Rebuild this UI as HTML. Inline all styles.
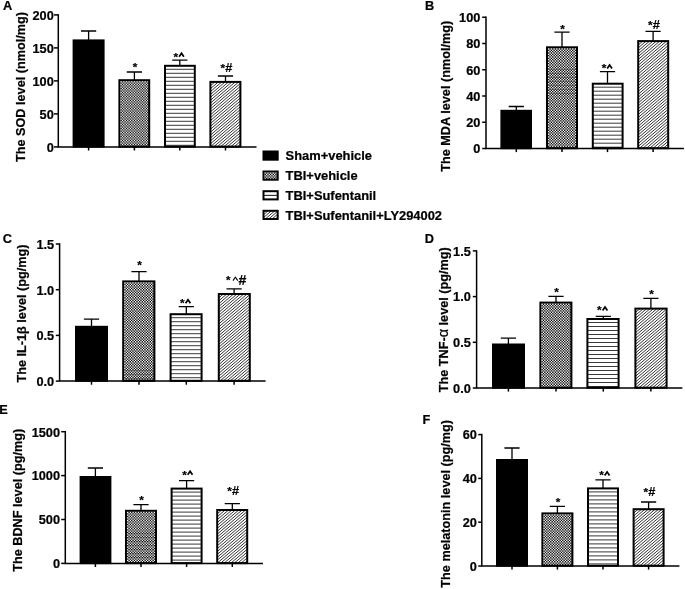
<!DOCTYPE html>
<html><head><meta charset="utf-8"><title>Figure</title>
<style>html,body{margin:0;padding:0;background:#fff;overflow:hidden}svg{display:block}text{font-family:"Liberation Sans",sans-serif;font-weight:bold;fill:#000;stroke:#000;stroke-width:0.22px}</style>
</head><body>
<svg width="685" height="589" viewBox="0 0 685 589">
<defs>
<filter id="soft" x="0" y="0" width="685" height="589" filterUnits="userSpaceOnUse"><feGaussianBlur stdDeviation="0.3"/></filter>
</defs>
<rect width="685" height="589" fill="#fff"/>
<g filter="url(#soft)">
<g id="panelA">
<text transform="translate(2.9,9.7) scale(0.94,1)" font-size="13.6">A</text>
<path d="M88.60,40.40 V31.00 M81.00,31.00 H96.20" stroke="#000" stroke-width="1.3" fill="none"/>
<rect x="73.60" y="40.40" width="30.00" height="106.20" fill="#000" stroke="#000" stroke-width="2.0"/>
<path d="M88.60,146.90 V150.50" stroke="#000" stroke-width="1.5"/>
<path d="M134.40,80.20 V72.00 M126.80,72.00 H142.00" stroke="#000" stroke-width="1.3" fill="none"/>
<clipPath id="c1"><rect x="119.40" y="80.20" width="29.80" height="66.40"/></clipPath>
<rect x="119.40" y="80.20" width="29.80" height="66.40" fill="#fff"/>
<path clip-path="url(#c1)" d="M121.83,81.87H149.20M121.83,84.53H149.20M121.83,87.20H149.20M121.83,89.86H149.20M121.83,92.53H149.20M121.83,95.20H149.20M121.83,97.86H149.20M121.83,100.53H149.20M121.83,103.19H149.20M121.83,105.86H149.20M121.83,108.53H149.20M121.83,111.19H149.20M121.83,113.86H149.20M121.83,116.52H149.20M121.83,119.19H149.20M121.83,121.86H149.20M121.83,124.52H149.20M121.83,127.19H149.20M121.83,129.85H149.20M121.83,132.52H149.20M121.83,135.19H149.20M121.83,137.85H149.20M121.83,140.52H149.20M121.83,143.18H149.20M121.83,145.85H149.20M120.50,83.20H149.20M120.50,85.87H149.20M120.50,88.53H149.20M120.50,91.20H149.20M120.50,93.86H149.20M120.50,96.53H149.20M120.50,99.20H149.20M120.50,101.86H149.20M120.50,104.53H149.20M120.50,107.19H149.20M120.50,109.86H149.20M120.50,112.53H149.20M120.50,115.19H149.20M120.50,117.86H149.20M120.50,120.52H149.20M120.50,123.19H149.20M120.50,125.86H149.20M120.50,128.52H149.20M120.50,131.19H149.20M120.50,133.85H149.20M120.50,136.52H149.20M120.50,139.19H149.20M120.50,141.85H149.20M120.50,144.52H149.20M120.50,147.18H149.20" stroke="#000" stroke-width="1.333" stroke-dasharray="1.333 1.333" fill="none"/>
<rect x="119.40" y="80.20" width="29.80" height="66.40" fill="none" stroke="#000" stroke-width="2.0"/>
<path d="M134.40,146.90 V150.50" stroke="#000" stroke-width="1.5"/>
<text x="135.00" y="70.55" font-size="11.8" font-weight="bold" text-anchor="middle" stroke-width="0.1">*</text>
<path d="M179.80,65.80 V60.20 M172.20,60.20 H187.40" stroke="#000" stroke-width="1.3" fill="none"/>
<clipPath id="c2"><rect x="165.00" y="65.80" width="29.80" height="80.80"/></clipPath>
<path clip-path="url(#c2)" d="M165.00,69.30H194.80M165.00,73.30H194.80M165.00,77.30H194.80M165.00,81.30H194.80M165.00,85.30H194.80M165.00,89.30H194.80M165.00,93.30H194.80M165.00,97.30H194.80M165.00,101.30H194.80M165.00,105.30H194.80M165.00,109.30H194.80M165.00,113.30H194.80M165.00,117.30H194.80M165.00,121.30H194.80M165.00,125.30H194.80M165.00,129.30H194.80M165.00,133.30H194.80M165.00,137.30H194.80M165.00,141.30H194.80M165.00,145.30H194.80" stroke="#3a3a3a" stroke-width="1.0" fill="none"/>
<rect x="165.00" y="65.80" width="29.80" height="80.80" fill="none" stroke="#000" stroke-width="2.0"/>
<path d="M179.80,146.90 V150.50" stroke="#000" stroke-width="1.5"/>
<text x="175.90" y="60.65" font-size="11.8" font-weight="bold" text-anchor="middle" stroke-width="0.1">*</text>
<path d="M179.09,56.80 L181.50,53.29 L183.91,56.80" stroke="#000" stroke-width="1.7" fill="none" stroke-linejoin="miter" stroke-miterlimit="10"/>
<path d="M225.50,81.90 V76.00 M217.90,76.00 H233.10" stroke="#000" stroke-width="1.3" fill="none"/>
<clipPath id="c3"><rect x="210.40" y="81.90" width="30.00" height="64.70"/></clipPath>
<path clip-path="url(#c3)" d="M210.40,82.90L240.40,57.31M210.40,85.80L240.40,60.21M210.40,88.70L240.40,63.11M210.40,91.60L240.40,66.01M210.40,94.50L240.40,68.91M210.40,97.40L240.40,71.81M210.40,100.30L240.40,74.71M210.40,103.20L240.40,77.61M210.40,106.10L240.40,80.51M210.40,109.00L240.40,83.41M210.40,111.90L240.40,86.31M210.40,114.80L240.40,89.21M210.40,117.70L240.40,92.11M210.40,120.60L240.40,95.01M210.40,123.50L240.40,97.91M210.40,126.40L240.40,100.81M210.40,129.30L240.40,103.71M210.40,132.20L240.40,106.61M210.40,135.10L240.40,109.51M210.40,138.00L240.40,112.41M210.40,140.90L240.40,115.31M210.40,143.80L240.40,118.21M210.40,146.70L240.40,121.11M210.40,149.60L240.40,124.01M210.40,152.50L240.40,126.91M210.40,155.40L240.40,129.81M210.40,158.30L240.40,132.71M210.40,161.20L240.40,135.61M210.40,164.10L240.40,138.51M210.40,167.00L240.40,141.41M210.40,169.90L240.40,144.31M210.40,172.80L240.40,147.21" stroke="#111" stroke-width="0.85" fill="none"/>
<rect x="210.40" y="81.90" width="30.00" height="64.70" fill="none" stroke="#000" stroke-width="2.0"/>
<path d="M225.50,146.90 V150.50" stroke="#000" stroke-width="1.5"/>
<text x="222.80" y="71.95" font-size="11.8" font-weight="bold" text-anchor="middle" stroke-width="0.1">*</text>
<text x="228.80" y="72.12" font-size="12.75" font-weight="bold" text-anchor="middle" stroke="#000" stroke-width="0.35">#</text>
<path d="M58.30,14.15 V146.90 H256.50" stroke="#000" stroke-width="1.5" fill="none" stroke-linejoin="miter"/>
<path d="M54,146.90 H58.3" stroke="#000" stroke-width="1.5"/>
<text x="53.8" y="151.76" font-size="12.75" text-anchor="end">0</text>
<path d="M54,113.90 H58.3" stroke="#000" stroke-width="1.5"/>
<text x="53.8" y="118.76" font-size="12.75" text-anchor="end">50</text>
<path d="M54,80.90 H58.3" stroke="#000" stroke-width="1.5"/>
<text x="53.8" y="85.76" font-size="12.75" text-anchor="end">100</text>
<path d="M54,47.90 H58.3" stroke="#000" stroke-width="1.5"/>
<text x="53.8" y="52.76" font-size="12.75" text-anchor="end">150</text>
<path d="M54,14.90 H58.3" stroke="#000" stroke-width="1.5"/>
<text x="53.8" y="19.76" font-size="12.75" text-anchor="end">200</text>
<text transform="translate(25.40,162.10) rotate(-90)" font-size="12.7">The SOD level (nmol/mg)</text>
</g>
<g id="panelB">
<text transform="translate(424.9,9.7) scale(0.94,1)" font-size="13.6">B</text>
<path d="M516.30,110.80 V106.50 M508.70,106.50 H523.90" stroke="#000" stroke-width="1.3" fill="none"/>
<rect x="501.40" y="110.80" width="29.60" height="37.40" fill="#000" stroke="#000" stroke-width="2.0"/>
<path d="M516.30,148.50 V152.10" stroke="#000" stroke-width="1.5"/>
<path d="M562.00,47.30 V32.20 M554.40,32.20 H569.60" stroke="#000" stroke-width="1.3" fill="none"/>
<clipPath id="c4"><rect x="547.00" y="47.30" width="30.00" height="100.90"/></clipPath>
<rect x="547.00" y="47.30" width="30.00" height="100.90" fill="#fff"/>
<path clip-path="url(#c4)" d="M549.43,48.97H577.00M549.43,51.63H577.00M549.43,54.30H577.00M549.43,56.96H577.00M549.43,59.63H577.00M549.43,62.30H577.00M549.43,64.96H577.00M549.43,67.63H577.00M549.43,70.29H577.00M549.43,72.96H577.00M549.43,75.63H577.00M549.43,78.29H577.00M549.43,80.96H577.00M549.43,83.62H577.00M549.43,86.29H577.00M549.43,88.96H577.00M549.43,91.62H577.00M549.43,94.29H577.00M549.43,96.95H577.00M549.43,99.62H577.00M549.43,102.29H577.00M549.43,104.95H577.00M549.43,107.62H577.00M549.43,110.28H577.00M549.43,112.95H577.00M549.43,115.62H577.00M549.43,118.28H577.00M549.43,120.95H577.00M549.43,123.61H577.00M549.43,126.28H577.00M549.43,128.95H577.00M549.43,131.61H577.00M549.43,134.28H577.00M549.43,136.94H577.00M549.43,139.61H577.00M549.43,142.28H577.00M549.43,144.94H577.00M549.43,147.61H577.00M548.10,50.30H577.00M548.10,52.97H577.00M548.10,55.63H577.00M548.10,58.30H577.00M548.10,60.96H577.00M548.10,63.63H577.00M548.10,66.30H577.00M548.10,68.96H577.00M548.10,71.63H577.00M548.10,74.29H577.00M548.10,76.96H577.00M548.10,79.63H577.00M548.10,82.29H577.00M548.10,84.96H577.00M548.10,87.62H577.00M548.10,90.29H577.00M548.10,92.96H577.00M548.10,95.62H577.00M548.10,98.29H577.00M548.10,100.95H577.00M548.10,103.62H577.00M548.10,106.29H577.00M548.10,108.95H577.00M548.10,111.62H577.00M548.10,114.28H577.00M548.10,116.95H577.00M548.10,119.62H577.00M548.10,122.28H577.00M548.10,124.95H577.00M548.10,127.61H577.00M548.10,130.28H577.00M548.10,132.95H577.00M548.10,135.61H577.00M548.10,138.28H577.00M548.10,140.94H577.00M548.10,143.61H577.00M548.10,146.28H577.00" stroke="#000" stroke-width="1.333" stroke-dasharray="1.333 1.333" fill="none"/>
<rect x="547.00" y="47.30" width="30.00" height="100.90" fill="none" stroke="#000" stroke-width="2.0"/>
<path d="M562.00,148.50 V152.10" stroke="#000" stroke-width="1.5"/>
<text x="562.60" y="32.55" font-size="11.8" font-weight="bold" text-anchor="middle" stroke-width="0.1">*</text>
<path d="M607.50,83.70 V71.60 M599.90,71.60 H615.10" stroke="#000" stroke-width="1.3" fill="none"/>
<clipPath id="c5"><rect x="592.80" y="83.70" width="29.80" height="64.50"/></clipPath>
<path clip-path="url(#c5)" d="M592.80,87.20H622.60M592.80,91.20H622.60M592.80,95.20H622.60M592.80,99.20H622.60M592.80,103.20H622.60M592.80,107.20H622.60M592.80,111.20H622.60M592.80,115.20H622.60M592.80,119.20H622.60M592.80,123.20H622.60M592.80,127.20H622.60M592.80,131.20H622.60M592.80,135.20H622.60M592.80,139.20H622.60M592.80,143.20H622.60M592.80,147.20H622.60" stroke="#3a3a3a" stroke-width="1.0" fill="none"/>
<rect x="592.80" y="83.70" width="29.80" height="64.50" fill="none" stroke="#000" stroke-width="2.0"/>
<path d="M607.50,148.50 V152.10" stroke="#000" stroke-width="1.5"/>
<text x="604.00" y="72.45" font-size="11.8" font-weight="bold" text-anchor="middle" stroke-width="0.1">*</text>
<path d="M607.20,68.60 L609.60,65.09 L612.00,68.60" stroke="#000" stroke-width="1.7" fill="none" stroke-linejoin="miter" stroke-miterlimit="10"/>
<path d="M653.10,41.10 V31.30 M645.50,31.30 H660.70" stroke="#000" stroke-width="1.3" fill="none"/>
<clipPath id="c6"><rect x="638.20" y="41.10" width="30.00" height="107.10"/></clipPath>
<path clip-path="url(#c6)" d="M638.20,42.10L668.20,16.51M638.20,45.00L668.20,19.41M638.20,47.90L668.20,22.31M638.20,50.80L668.20,25.21M638.20,53.70L668.20,28.11M638.20,56.60L668.20,31.01M638.20,59.50L668.20,33.91M638.20,62.40L668.20,36.81M638.20,65.30L668.20,39.71M638.20,68.20L668.20,42.61M638.20,71.10L668.20,45.51M638.20,74.00L668.20,48.41M638.20,76.90L668.20,51.31M638.20,79.80L668.20,54.21M638.20,82.70L668.20,57.11M638.20,85.60L668.20,60.01M638.20,88.50L668.20,62.91M638.20,91.40L668.20,65.81M638.20,94.30L668.20,68.71M638.20,97.20L668.20,71.61M638.20,100.10L668.20,74.51M638.20,103.00L668.20,77.41M638.20,105.90L668.20,80.31M638.20,108.80L668.20,83.21M638.20,111.70L668.20,86.11M638.20,114.60L668.20,89.01M638.20,117.50L668.20,91.91M638.20,120.40L668.20,94.81M638.20,123.30L668.20,97.71M638.20,126.20L668.20,100.61M638.20,129.10L668.20,103.51M638.20,132.00L668.20,106.41M638.20,134.90L668.20,109.31M638.20,137.80L668.20,112.21M638.20,140.70L668.20,115.11M638.20,143.60L668.20,118.01M638.20,146.50L668.20,120.91M638.20,149.40L668.20,123.81M638.20,152.30L668.20,126.71M638.20,155.20L668.20,129.61M638.20,158.10L668.20,132.51M638.20,161.00L668.20,135.41M638.20,163.90L668.20,138.31M638.20,166.80L668.20,141.21M638.20,169.70L668.20,144.11M638.20,172.60L668.20,147.01M638.20,175.50L668.20,149.91" stroke="#111" stroke-width="0.85" fill="none"/>
<rect x="638.20" y="41.10" width="30.00" height="107.10" fill="none" stroke="#000" stroke-width="2.0"/>
<path d="M653.10,148.50 V152.10" stroke="#000" stroke-width="1.5"/>
<text x="650.40" y="28.75" font-size="11.8" font-weight="bold" text-anchor="middle" stroke-width="0.1">*</text>
<text x="656.40" y="28.92" font-size="12.75" font-weight="bold" text-anchor="middle" stroke="#000" stroke-width="0.35">#</text>
<path d="M486.00,16.50 V148.50 H683.90" stroke="#000" stroke-width="1.5" fill="none" stroke-linejoin="miter"/>
<path d="M482.2,148.50 H486" stroke="#000" stroke-width="1.5"/>
<text x="480.4" y="153.36" font-size="12.75" text-anchor="end">0</text>
<path d="M482.2,122.25 H486" stroke="#000" stroke-width="1.5"/>
<text x="480.4" y="127.11" font-size="12.75" text-anchor="end">20</text>
<path d="M482.2,96.00 H486" stroke="#000" stroke-width="1.5"/>
<text x="480.4" y="100.86" font-size="12.75" text-anchor="end">40</text>
<path d="M482.2,69.75 H486" stroke="#000" stroke-width="1.5"/>
<text x="480.4" y="74.61" font-size="12.75" text-anchor="end">60</text>
<path d="M482.2,43.50 H486" stroke="#000" stroke-width="1.5"/>
<text x="480.4" y="48.36" font-size="12.75" text-anchor="end">80</text>
<path d="M482.2,17.25 H486" stroke="#000" stroke-width="1.5"/>
<text x="480.4" y="22.11" font-size="12.75" text-anchor="end">100</text>
<text transform="translate(449.85,171.80) rotate(-90)" font-size="12.7">The MDA level (nmol/mg)</text>
</g>
<g id="panelC">
<text transform="translate(2.7,242.9) scale(0.94,1)" font-size="13.6">C</text>
<path d="M91.50,326.80 V319.20 M83.90,319.20 H99.10" stroke="#000" stroke-width="1.3" fill="none"/>
<rect x="76.00" y="326.80" width="31.00" height="54.00" fill="#000" stroke="#000" stroke-width="2.0"/>
<path d="M91.50,381.10 V384.70" stroke="#000" stroke-width="1.5"/>
<path d="M139.00,281.40 V271.70 M131.40,271.70 H146.60" stroke="#000" stroke-width="1.3" fill="none"/>
<clipPath id="c7"><rect x="123.20" y="281.40" width="31.20" height="99.40"/></clipPath>
<rect x="123.20" y="281.40" width="31.20" height="99.40" fill="#fff"/>
<path clip-path="url(#c7)" d="M125.63,283.07H154.40M125.63,285.73H154.40M125.63,288.40H154.40M125.63,291.06H154.40M125.63,293.73H154.40M125.63,296.40H154.40M125.63,299.06H154.40M125.63,301.73H154.40M125.63,304.39H154.40M125.63,307.06H154.40M125.63,309.73H154.40M125.63,312.39H154.40M125.63,315.06H154.40M125.63,317.72H154.40M125.63,320.39H154.40M125.63,323.06H154.40M125.63,325.72H154.40M125.63,328.39H154.40M125.63,331.05H154.40M125.63,333.72H154.40M125.63,336.39H154.40M125.63,339.05H154.40M125.63,341.72H154.40M125.63,344.38H154.40M125.63,347.05H154.40M125.63,349.72H154.40M125.63,352.38H154.40M125.63,355.05H154.40M125.63,357.71H154.40M125.63,360.38H154.40M125.63,363.05H154.40M125.63,365.71H154.40M125.63,368.38H154.40M125.63,371.04H154.40M125.63,373.71H154.40M125.63,376.38H154.40M125.63,379.04H154.40M124.30,284.40H154.40M124.30,287.07H154.40M124.30,289.73H154.40M124.30,292.40H154.40M124.30,295.06H154.40M124.30,297.73H154.40M124.30,300.40H154.40M124.30,303.06H154.40M124.30,305.73H154.40M124.30,308.39H154.40M124.30,311.06H154.40M124.30,313.73H154.40M124.30,316.39H154.40M124.30,319.06H154.40M124.30,321.72H154.40M124.30,324.39H154.40M124.30,327.06H154.40M124.30,329.72H154.40M124.30,332.39H154.40M124.30,335.05H154.40M124.30,337.72H154.40M124.30,340.39H154.40M124.30,343.05H154.40M124.30,345.72H154.40M124.30,348.38H154.40M124.30,351.05H154.40M124.30,353.72H154.40M124.30,356.38H154.40M124.30,359.05H154.40M124.30,361.71H154.40M124.30,364.38H154.40M124.30,367.05H154.40M124.30,369.71H154.40M124.30,372.38H154.40M124.30,375.04H154.40M124.30,377.71H154.40M124.30,380.38H154.40" stroke="#000" stroke-width="1.333" stroke-dasharray="1.333 1.333" fill="none"/>
<rect x="123.20" y="281.40" width="31.20" height="99.40" fill="none" stroke="#000" stroke-width="2.0"/>
<path d="M139.00,381.10 V384.70" stroke="#000" stroke-width="1.5"/>
<text x="139.60" y="269.45" font-size="11.8" font-weight="bold" text-anchor="middle" stroke-width="0.1">*</text>
<path d="M186.30,314.20 V306.60 M178.70,306.60 H193.90" stroke="#000" stroke-width="1.3" fill="none"/>
<clipPath id="c8"><rect x="170.60" y="314.20" width="31.00" height="66.60"/></clipPath>
<path clip-path="url(#c8)" d="M170.60,317.70H201.60M170.60,321.70H201.60M170.60,325.70H201.60M170.60,329.70H201.60M170.60,333.70H201.60M170.60,337.70H201.60M170.60,341.70H201.60M170.60,345.70H201.60M170.60,349.70H201.60M170.60,353.70H201.60M170.60,357.70H201.60M170.60,361.70H201.60M170.60,365.70H201.60M170.60,369.70H201.60M170.60,373.70H201.60M170.60,377.70H201.60" stroke="#3a3a3a" stroke-width="1.0" fill="none"/>
<rect x="170.60" y="314.20" width="31.00" height="66.60" fill="none" stroke="#000" stroke-width="2.0"/>
<path d="M186.30,381.10 V384.70" stroke="#000" stroke-width="1.5"/>
<text x="182.40" y="307.05" font-size="11.8" font-weight="bold" text-anchor="middle" stroke-width="0.1">*</text>
<path d="M185.59,303.20 L188.00,299.69 L190.41,303.20" stroke="#000" stroke-width="1.7" fill="none" stroke-linejoin="miter" stroke-miterlimit="10"/>
<path d="M234.10,294.00 V288.80 M226.50,288.80 H241.70" stroke="#000" stroke-width="1.3" fill="none"/>
<clipPath id="c9"><rect x="218.80" y="294.00" width="31.00" height="86.80"/></clipPath>
<path clip-path="url(#c9)" d="M218.80,295.00L249.80,268.56M218.80,297.90L249.80,271.46M218.80,300.80L249.80,274.36M218.80,303.70L249.80,277.26M218.80,306.60L249.80,280.16M218.80,309.50L249.80,283.06M218.80,312.40L249.80,285.96M218.80,315.30L249.80,288.86M218.80,318.20L249.80,291.76M218.80,321.10L249.80,294.66M218.80,324.00L249.80,297.56M218.80,326.90L249.80,300.46M218.80,329.80L249.80,303.36M218.80,332.70L249.80,306.26M218.80,335.60L249.80,309.16M218.80,338.50L249.80,312.06M218.80,341.40L249.80,314.96M218.80,344.30L249.80,317.86M218.80,347.20L249.80,320.76M218.80,350.10L249.80,323.66M218.80,353.00L249.80,326.56M218.80,355.90L249.80,329.46M218.80,358.80L249.80,332.36M218.80,361.70L249.80,335.26M218.80,364.60L249.80,338.16M218.80,367.50L249.80,341.06M218.80,370.40L249.80,343.96M218.80,373.30L249.80,346.86M218.80,376.20L249.80,349.76M218.80,379.10L249.80,352.66M218.80,382.00L249.80,355.56M218.80,384.90L249.80,358.46M218.80,387.80L249.80,361.36M218.80,390.70L249.80,364.26M218.80,393.60L249.80,367.16M218.80,396.50L249.80,370.06M218.80,399.40L249.80,372.96M218.80,402.30L249.80,375.86M218.80,405.20L249.80,378.76M218.80,408.10L249.80,381.66" stroke="#111" stroke-width="0.85" fill="none"/>
<rect x="218.80" y="294.00" width="31.00" height="86.80" fill="none" stroke="#000" stroke-width="2.0"/>
<path d="M234.10,381.10 V384.70" stroke="#000" stroke-width="1.5"/>
<text x="228.30" y="284.43" font-size="11.5" font-weight="normal" text-anchor="middle" stroke-width="0.1">*</text>
<path d="M232.98,280.60 L235.40,277.17 L237.81,280.60" stroke="#000" stroke-width="1.1" fill="none" stroke-linejoin="miter" stroke-miterlimit="10"/>
<text x="242.50" y="285.20" font-size="14" font-weight="normal" text-anchor="middle" stroke="#000" stroke-width="0.1">#</text>
<path d="M59.60,243.25 V381.10 H265.60" stroke="#000" stroke-width="1.5" fill="none" stroke-linejoin="miter"/>
<path d="M55.8,381.10 H59.6" stroke="#000" stroke-width="1.5"/>
<text x="54.2" y="385.96" font-size="12.75" text-anchor="end">0.0</text>
<path d="M55.8,335.40 H59.6" stroke="#000" stroke-width="1.5"/>
<text x="54.2" y="340.26" font-size="12.75" text-anchor="end">0.5</text>
<path d="M55.8,289.70 H59.6" stroke="#000" stroke-width="1.5"/>
<text x="54.2" y="294.56" font-size="12.75" text-anchor="end">1.0</text>
<path d="M55.8,244.00 H59.6" stroke="#000" stroke-width="1.5"/>
<text x="54.2" y="248.86" font-size="12.75" text-anchor="end">1.5</text>
<text transform="translate(25.80,382.60) rotate(-90)" font-size="12.7">The IL-1β level (pg/mg)</text>
</g>
<g id="panelD">
<text transform="translate(424.7,243.1) scale(0.94,1)" font-size="13.6">D</text>
<path d="M508.40,344.50 V338.20 M500.80,338.20 H516.00" stroke="#000" stroke-width="1.3" fill="none"/>
<rect x="493.00" y="344.50" width="31.00" height="43.20" fill="#000" stroke="#000" stroke-width="2.0"/>
<path d="M508.40,388.00 V391.60" stroke="#000" stroke-width="1.5"/>
<path d="M556.00,302.60 V296.40 M548.40,296.40 H563.60" stroke="#000" stroke-width="1.3" fill="none"/>
<clipPath id="c10"><rect x="540.40" y="302.60" width="31.00" height="85.10"/></clipPath>
<rect x="540.40" y="302.60" width="31.00" height="85.10" fill="#fff"/>
<path clip-path="url(#c10)" d="M542.83,304.27H571.40M542.83,306.93H571.40M542.83,309.60H571.40M542.83,312.26H571.40M542.83,314.93H571.40M542.83,317.60H571.40M542.83,320.26H571.40M542.83,322.93H571.40M542.83,325.59H571.40M542.83,328.26H571.40M542.83,330.93H571.40M542.83,333.59H571.40M542.83,336.26H571.40M542.83,338.92H571.40M542.83,341.59H571.40M542.83,344.26H571.40M542.83,346.92H571.40M542.83,349.59H571.40M542.83,352.25H571.40M542.83,354.92H571.40M542.83,357.59H571.40M542.83,360.25H571.40M542.83,362.92H571.40M542.83,365.58H571.40M542.83,368.25H571.40M542.83,370.92H571.40M542.83,373.58H571.40M542.83,376.25H571.40M542.83,378.91H571.40M542.83,381.58H571.40M542.83,384.25H571.40M542.83,386.91H571.40M541.50,305.60H571.40M541.50,308.27H571.40M541.50,310.93H571.40M541.50,313.60H571.40M541.50,316.26H571.40M541.50,318.93H571.40M541.50,321.60H571.40M541.50,324.26H571.40M541.50,326.93H571.40M541.50,329.59H571.40M541.50,332.26H571.40M541.50,334.93H571.40M541.50,337.59H571.40M541.50,340.26H571.40M541.50,342.92H571.40M541.50,345.59H571.40M541.50,348.26H571.40M541.50,350.92H571.40M541.50,353.59H571.40M541.50,356.25H571.40M541.50,358.92H571.40M541.50,361.59H571.40M541.50,364.25H571.40M541.50,366.92H571.40M541.50,369.58H571.40M541.50,372.25H571.40M541.50,374.92H571.40M541.50,377.58H571.40M541.50,380.25H571.40M541.50,382.91H571.40M541.50,385.58H571.40M541.50,388.25H571.40" stroke="#000" stroke-width="1.333" stroke-dasharray="1.333 1.333" fill="none"/>
<rect x="540.40" y="302.60" width="31.00" height="85.10" fill="none" stroke="#000" stroke-width="2.0"/>
<path d="M556.00,388.00 V391.60" stroke="#000" stroke-width="1.5"/>
<text x="556.60" y="296.45" font-size="11.8" font-weight="bold" text-anchor="middle" stroke-width="0.1">*</text>
<path d="M603.30,319.00 V316.40 M595.70,316.40 H610.90" stroke="#000" stroke-width="1.3" fill="none"/>
<clipPath id="c11"><rect x="587.40" y="319.00" width="31.20" height="68.70"/></clipPath>
<path clip-path="url(#c11)" d="M587.40,322.50H618.60M587.40,326.50H618.60M587.40,330.50H618.60M587.40,334.50H618.60M587.40,338.50H618.60M587.40,342.50H618.60M587.40,346.50H618.60M587.40,350.50H618.60M587.40,354.50H618.60M587.40,358.50H618.60M587.40,362.50H618.60M587.40,366.50H618.60M587.40,370.50H618.60M587.40,374.50H618.60M587.40,378.50H618.60M587.40,382.50H618.60M587.40,386.50H618.60" stroke="#3a3a3a" stroke-width="1.0" fill="none"/>
<rect x="587.40" y="319.00" width="31.20" height="68.70" fill="none" stroke="#000" stroke-width="2.0"/>
<path d="M603.30,388.00 V391.60" stroke="#000" stroke-width="1.5"/>
<text x="599.40" y="314.45" font-size="11.8" font-weight="bold" text-anchor="middle" stroke-width="0.1">*</text>
<path d="M602.60,310.60 L605.00,307.09 L607.40,310.60" stroke="#000" stroke-width="1.7" fill="none" stroke-linejoin="miter" stroke-miterlimit="10"/>
<path d="M650.90,308.60 V298.40 M643.30,298.40 H658.50" stroke="#000" stroke-width="1.3" fill="none"/>
<clipPath id="c12"><rect x="635.40" y="308.60" width="31.20" height="79.10"/></clipPath>
<path clip-path="url(#c12)" d="M635.40,309.60L666.60,282.99M635.40,312.50L666.60,285.89M635.40,315.40L666.60,288.79M635.40,318.30L666.60,291.69M635.40,321.20L666.60,294.59M635.40,324.10L666.60,297.49M635.40,327.00L666.60,300.39M635.40,329.90L666.60,303.29M635.40,332.80L666.60,306.19M635.40,335.70L666.60,309.09M635.40,338.60L666.60,311.99M635.40,341.50L666.60,314.89M635.40,344.40L666.60,317.79M635.40,347.30L666.60,320.69M635.40,350.20L666.60,323.59M635.40,353.10L666.60,326.49M635.40,356.00L666.60,329.39M635.40,358.90L666.60,332.29M635.40,361.80L666.60,335.19M635.40,364.70L666.60,338.09M635.40,367.60L666.60,340.99M635.40,370.50L666.60,343.89M635.40,373.40L666.60,346.79M635.40,376.30L666.60,349.69M635.40,379.20L666.60,352.59M635.40,382.10L666.60,355.49M635.40,385.00L666.60,358.39M635.40,387.90L666.60,361.29M635.40,390.80L666.60,364.19M635.40,393.70L666.60,367.09M635.40,396.60L666.60,369.99M635.40,399.50L666.60,372.89M635.40,402.40L666.60,375.79M635.40,405.30L666.60,378.69M635.40,408.20L666.60,381.59M635.40,411.10L666.60,384.49M635.40,414.00L666.60,387.39M635.40,416.90L666.60,390.29" stroke="#111" stroke-width="0.85" fill="none"/>
<rect x="635.40" y="308.60" width="31.20" height="79.10" fill="none" stroke="#000" stroke-width="2.0"/>
<path d="M650.90,388.00 V391.60" stroke="#000" stroke-width="1.5"/>
<text x="651.50" y="298.45" font-size="11.8" font-weight="bold" text-anchor="middle" stroke-width="0.1">*</text>
<path d="M476.60,250.15 V388.00 H682.40" stroke="#000" stroke-width="1.5" fill="none" stroke-linejoin="miter"/>
<path d="M472.8,388.00 H476.6" stroke="#000" stroke-width="1.5"/>
<text x="470.8" y="392.86" font-size="12.75" text-anchor="end">0.0</text>
<path d="M472.8,342.30 H476.6" stroke="#000" stroke-width="1.5"/>
<text x="470.8" y="347.16" font-size="12.75" text-anchor="end">0.5</text>
<path d="M472.8,296.60 H476.6" stroke="#000" stroke-width="1.5"/>
<text x="470.8" y="301.46" font-size="12.75" text-anchor="end">1.0</text>
<path d="M472.8,250.90 H476.6" stroke="#000" stroke-width="1.5"/>
<text x="470.8" y="255.76" font-size="12.75" text-anchor="end">1.5</text>
<text transform="translate(448.20,392.30) rotate(-90)" font-size="12.7">The TNF-<tspan font-weight="normal" font-size="14.5">α</tspan> level (pg/mg)</text>
</g>
<g id="panelE">
<text transform="translate(-0.7,414.0) scale(0.94,1)" font-size="13.6">E</text>
<path d="M95.40,477.00 V468.00 M87.80,468.00 H103.00" stroke="#000" stroke-width="1.3" fill="none"/>
<rect x="80.60" y="477.00" width="29.80" height="86.10" fill="#000" stroke="#000" stroke-width="2.0"/>
<path d="M95.40,563.40 V567.00" stroke="#000" stroke-width="1.5"/>
<path d="M141.00,510.80 V504.70 M133.40,504.70 H148.60" stroke="#000" stroke-width="1.3" fill="none"/>
<clipPath id="c13"><rect x="126.00" y="510.80" width="30.00" height="52.30"/></clipPath>
<rect x="126.00" y="510.80" width="30.00" height="52.30" fill="#fff"/>
<path clip-path="url(#c13)" d="M128.43,512.47H156.00M128.43,515.13H156.00M128.43,517.80H156.00M128.43,520.46H156.00M128.43,523.13H156.00M128.43,525.80H156.00M128.43,528.46H156.00M128.43,531.13H156.00M128.43,533.79H156.00M128.43,536.46H156.00M128.43,539.13H156.00M128.43,541.79H156.00M128.43,544.46H156.00M128.43,547.12H156.00M128.43,549.79H156.00M128.43,552.46H156.00M128.43,555.12H156.00M128.43,557.79H156.00M128.43,560.45H156.00M128.43,563.12H156.00M127.10,513.80H156.00M127.10,516.47H156.00M127.10,519.13H156.00M127.10,521.80H156.00M127.10,524.46H156.00M127.10,527.13H156.00M127.10,529.80H156.00M127.10,532.46H156.00M127.10,535.13H156.00M127.10,537.79H156.00M127.10,540.46H156.00M127.10,543.13H156.00M127.10,545.79H156.00M127.10,548.46H156.00M127.10,551.12H156.00M127.10,553.79H156.00M127.10,556.46H156.00M127.10,559.12H156.00M127.10,561.79H156.00" stroke="#000" stroke-width="1.333" stroke-dasharray="1.333 1.333" fill="none"/>
<rect x="126.00" y="510.80" width="30.00" height="52.30" fill="none" stroke="#000" stroke-width="2.0"/>
<path d="M141.00,563.40 V567.00" stroke="#000" stroke-width="1.5"/>
<text x="141.60" y="503.55" font-size="11.8" font-weight="bold" text-anchor="middle" stroke-width="0.1">*</text>
<path d="M186.60,488.60 V480.60 M179.00,480.60 H194.20" stroke="#000" stroke-width="1.3" fill="none"/>
<clipPath id="c14"><rect x="171.60" y="488.60" width="30.00" height="74.50"/></clipPath>
<path clip-path="url(#c14)" d="M171.60,492.10H201.60M171.60,496.10H201.60M171.60,500.10H201.60M171.60,504.10H201.60M171.60,508.10H201.60M171.60,512.10H201.60M171.60,516.10H201.60M171.60,520.10H201.60M171.60,524.10H201.60M171.60,528.10H201.60M171.60,532.10H201.60M171.60,536.10H201.60M171.60,540.10H201.60M171.60,544.10H201.60M171.60,548.10H201.60M171.60,552.10H201.60M171.60,556.10H201.60M171.60,560.10H201.60" stroke="#3a3a3a" stroke-width="1.0" fill="none"/>
<rect x="171.60" y="488.60" width="30.00" height="74.50" fill="none" stroke="#000" stroke-width="2.0"/>
<path d="M186.60,563.40 V567.00" stroke="#000" stroke-width="1.5"/>
<text x="184.50" y="478.65" font-size="11.8" font-weight="bold" text-anchor="middle" stroke-width="0.1">*</text>
<path d="M187.69,474.80 L190.10,471.29 L192.50,474.80" stroke="#000" stroke-width="1.7" fill="none" stroke-linejoin="miter" stroke-miterlimit="10"/>
<path d="M232.30,510.00 V503.60 M224.70,503.60 H239.90" stroke="#000" stroke-width="1.3" fill="none"/>
<clipPath id="c15"><rect x="217.20" y="510.00" width="30.00" height="53.10"/></clipPath>
<path clip-path="url(#c15)" d="M217.20,511.00L247.20,485.41M217.20,513.90L247.20,488.31M217.20,516.80L247.20,491.21M217.20,519.70L247.20,494.11M217.20,522.60L247.20,497.01M217.20,525.50L247.20,499.91M217.20,528.40L247.20,502.81M217.20,531.30L247.20,505.71M217.20,534.20L247.20,508.61M217.20,537.10L247.20,511.51M217.20,540.00L247.20,514.41M217.20,542.90L247.20,517.31M217.20,545.80L247.20,520.21M217.20,548.70L247.20,523.11M217.20,551.60L247.20,526.01M217.20,554.50L247.20,528.91M217.20,557.40L247.20,531.81M217.20,560.30L247.20,534.71M217.20,563.20L247.20,537.61M217.20,566.10L247.20,540.51M217.20,569.00L247.20,543.41M217.20,571.90L247.20,546.31M217.20,574.80L247.20,549.21M217.20,577.70L247.20,552.11M217.20,580.60L247.20,555.01M217.20,583.50L247.20,557.91M217.20,586.40L247.20,560.81M217.20,589.30L247.20,563.71" stroke="#111" stroke-width="0.85" fill="none"/>
<rect x="217.20" y="510.00" width="30.00" height="53.10" fill="none" stroke="#000" stroke-width="2.0"/>
<path d="M232.30,563.40 V567.00" stroke="#000" stroke-width="1.5"/>
<text x="229.60" y="494.65" font-size="11.8" font-weight="bold" text-anchor="middle" stroke-width="0.1">*</text>
<text x="235.60" y="494.82" font-size="12.75" font-weight="bold" text-anchor="middle" stroke="#000" stroke-width="0.35">#</text>
<path d="M65.30,430.95 V563.40 H263.00" stroke="#000" stroke-width="1.5" fill="none" stroke-linejoin="miter"/>
<path d="M61.2,563.40 H65.3" stroke="#000" stroke-width="1.5"/>
<text x="60.0" y="568.26" font-size="12.75" text-anchor="end">0</text>
<path d="M61.2,519.50 H65.3" stroke="#000" stroke-width="1.5"/>
<text x="60.0" y="524.36" font-size="12.75" text-anchor="end">500</text>
<path d="M61.2,475.60 H65.3" stroke="#000" stroke-width="1.5"/>
<text x="60.0" y="480.46" font-size="12.75" text-anchor="end">1000</text>
<path d="M61.2,431.70 H65.3" stroke="#000" stroke-width="1.5"/>
<text x="60.0" y="436.56" font-size="12.75" text-anchor="end">1500</text>
<text transform="translate(22.10,571.80) rotate(-90)" font-size="12.7">The BDNF level (pg/mg)</text>
</g>
<g id="panelF">
<text transform="translate(422.5,424.3) scale(0.94,1)" font-size="13.6">F</text>
<path d="M512.00,460.00 V448.00 M504.40,448.00 H519.60" stroke="#000" stroke-width="1.3" fill="none"/>
<rect x="497.00" y="460.00" width="30.00" height="105.70" fill="#000" stroke="#000" stroke-width="2.0"/>
<path d="M512.00,566.00 V569.60" stroke="#000" stroke-width="1.5"/>
<path d="M557.40,513.40 V506.30 M549.80,506.30 H565.00" stroke="#000" stroke-width="1.3" fill="none"/>
<clipPath id="c16"><rect x="542.40" y="513.40" width="30.00" height="52.30"/></clipPath>
<rect x="542.40" y="513.40" width="30.00" height="52.30" fill="#fff"/>
<path clip-path="url(#c16)" d="M544.83,515.07H572.40M544.83,517.73H572.40M544.83,520.40H572.40M544.83,523.06H572.40M544.83,525.73H572.40M544.83,528.40H572.40M544.83,531.06H572.40M544.83,533.73H572.40M544.83,536.39H572.40M544.83,539.06H572.40M544.83,541.73H572.40M544.83,544.39H572.40M544.83,547.06H572.40M544.83,549.72H572.40M544.83,552.39H572.40M544.83,555.06H572.40M544.83,557.72H572.40M544.83,560.39H572.40M544.83,563.05H572.40M544.83,565.72H572.40M543.50,516.40H572.40M543.50,519.07H572.40M543.50,521.73H572.40M543.50,524.40H572.40M543.50,527.06H572.40M543.50,529.73H572.40M543.50,532.40H572.40M543.50,535.06H572.40M543.50,537.73H572.40M543.50,540.39H572.40M543.50,543.06H572.40M543.50,545.73H572.40M543.50,548.39H572.40M543.50,551.06H572.40M543.50,553.72H572.40M543.50,556.39H572.40M543.50,559.06H572.40M543.50,561.72H572.40M543.50,564.39H572.40" stroke="#000" stroke-width="1.333" stroke-dasharray="1.333 1.333" fill="none"/>
<rect x="542.40" y="513.40" width="30.00" height="52.30" fill="none" stroke="#000" stroke-width="2.0"/>
<path d="M557.40,566.00 V569.60" stroke="#000" stroke-width="1.5"/>
<text x="558.00" y="506.45" font-size="11.8" font-weight="bold" text-anchor="middle" stroke-width="0.1">*</text>
<path d="M603.00,488.40 V479.80 M595.40,479.80 H610.60" stroke="#000" stroke-width="1.3" fill="none"/>
<clipPath id="c17"><rect x="588.00" y="488.40" width="30.00" height="77.30"/></clipPath>
<path clip-path="url(#c17)" d="M588.00,491.90H618.00M588.00,495.90H618.00M588.00,499.90H618.00M588.00,503.90H618.00M588.00,507.90H618.00M588.00,511.90H618.00M588.00,515.90H618.00M588.00,519.90H618.00M588.00,523.90H618.00M588.00,527.90H618.00M588.00,531.90H618.00M588.00,535.90H618.00M588.00,539.90H618.00M588.00,543.90H618.00M588.00,547.90H618.00M588.00,551.90H618.00M588.00,555.90H618.00M588.00,559.90H618.00M588.00,563.90H618.00" stroke="#3a3a3a" stroke-width="1.0" fill="none"/>
<rect x="588.00" y="488.40" width="30.00" height="77.30" fill="none" stroke="#000" stroke-width="2.0"/>
<path d="M603.00,566.00 V569.60" stroke="#000" stroke-width="1.5"/>
<text x="601.50" y="479.25" font-size="11.8" font-weight="bold" text-anchor="middle" stroke-width="0.1">*</text>
<path d="M604.70,475.40 L607.10,471.89 L609.50,475.40" stroke="#000" stroke-width="1.7" fill="none" stroke-linejoin="miter" stroke-miterlimit="10"/>
<path d="M648.60,509.20 V502.00 M641.00,502.00 H656.20" stroke="#000" stroke-width="1.3" fill="none"/>
<clipPath id="c18"><rect x="633.60" y="509.20" width="30.00" height="56.50"/></clipPath>
<path clip-path="url(#c18)" d="M633.60,510.20L663.60,484.61M633.60,513.10L663.60,487.51M633.60,516.00L663.60,490.41M633.60,518.90L663.60,493.31M633.60,521.80L663.60,496.21M633.60,524.70L663.60,499.11M633.60,527.60L663.60,502.01M633.60,530.50L663.60,504.91M633.60,533.40L663.60,507.81M633.60,536.30L663.60,510.71M633.60,539.20L663.60,513.61M633.60,542.10L663.60,516.51M633.60,545.00L663.60,519.41M633.60,547.90L663.60,522.31M633.60,550.80L663.60,525.21M633.60,553.70L663.60,528.11M633.60,556.60L663.60,531.01M633.60,559.50L663.60,533.91M633.60,562.40L663.60,536.81M633.60,565.30L663.60,539.71M633.60,568.20L663.60,542.61M633.60,571.10L663.60,545.51M633.60,574.00L663.60,548.41M633.60,576.90L663.60,551.31M633.60,579.80L663.60,554.21M633.60,582.70L663.60,557.11M633.60,585.60L663.60,560.01M633.60,588.50L663.60,562.91M633.60,591.40L663.60,565.81" stroke="#111" stroke-width="0.85" fill="none"/>
<rect x="633.60" y="509.20" width="30.00" height="56.50" fill="none" stroke="#000" stroke-width="2.0"/>
<path d="M648.60,566.00 V569.60" stroke="#000" stroke-width="1.5"/>
<text x="645.90" y="495.85" font-size="11.8" font-weight="bold" text-anchor="middle" stroke-width="0.1">*</text>
<text x="651.90" y="496.02" font-size="12.75" font-weight="bold" text-anchor="middle" stroke="#000" stroke-width="0.35">#</text>
<path d="M481.80,433.85 V566.00 H679.40" stroke="#000" stroke-width="1.5" fill="none" stroke-linejoin="miter"/>
<path d="M478.2,566.00 H481.8" stroke="#000" stroke-width="1.5"/>
<text x="476.9" y="570.86" font-size="12.75" text-anchor="end">0</text>
<path d="M478.2,522.20 H481.8" stroke="#000" stroke-width="1.5"/>
<text x="476.9" y="527.06" font-size="12.75" text-anchor="end">20</text>
<path d="M478.2,478.40 H481.8" stroke="#000" stroke-width="1.5"/>
<text x="476.9" y="483.26" font-size="12.75" text-anchor="end">40</text>
<path d="M478.2,434.60 H481.8" stroke="#000" stroke-width="1.5"/>
<text x="476.9" y="439.46" font-size="12.75" text-anchor="end">60</text>
<text transform="translate(449.60,587.70) rotate(-90)" font-size="12.7">The melatonin level (pg/mg)</text>
</g>
<g id="legend">
<rect x="262.5" y="150.5" width="16.2" height="10.2" fill="#000"/>
<text x="285.6" y="160.22" font-size="12.9">Sham+vehicle</text>
<clipPath id="c19"><rect x="263.50" y="171.50" width="14.20" height="8.20"/></clipPath>
<rect x="263.50" y="171.50" width="14.20" height="8.20" fill="#fff"/>
<path clip-path="url(#c19)" d="M265.93,173.17H277.70M265.93,175.83H277.70M265.93,178.50H277.70M264.60,174.50H277.70M264.60,177.17H277.70M264.60,179.83H277.70" stroke="#000" stroke-width="1.333" stroke-dasharray="1.333 1.333" fill="none"/>
<rect x="263.50" y="171.50" width="14.20" height="8.20" fill="none" stroke="#000" stroke-width="2"/>
<text x="285.6" y="180.22" font-size="12.9">TBI+vehicle</text>
<rect x="263.5" y="191.2" width="14.2" height="8.2" fill="#fff" stroke="#000" stroke-width="2"/>
<path d="M263.5,195.39999999999998 h14.2" stroke="#222" stroke-width="1.1"/>
<text x="285.6" y="199.92" font-size="12.9">TBI+Sufentanil</text>
<clipPath id="c20"><rect x="263.50" y="210.80" width="14.20" height="8.20"/></clipPath>
<path clip-path="url(#c20)" d="M263.50,211.80L277.70,199.69M263.50,214.70L277.70,202.59M263.50,217.60L277.70,205.49M263.50,220.50L277.70,208.39M263.50,223.40L277.70,211.29M263.50,226.30L277.70,214.19M263.50,229.20L277.70,217.09M263.50,232.10L277.70,219.99" stroke="#111" stroke-width="0.85" fill="none"/>
<rect x="263.50" y="210.80" width="14.20" height="8.20" fill="none" stroke="#000" stroke-width="2"/>
<text x="285.6" y="219.52" font-size="12.9">TBI+Sufentanil+LY294002</text>
</g>
</g>
</svg></body></html>
